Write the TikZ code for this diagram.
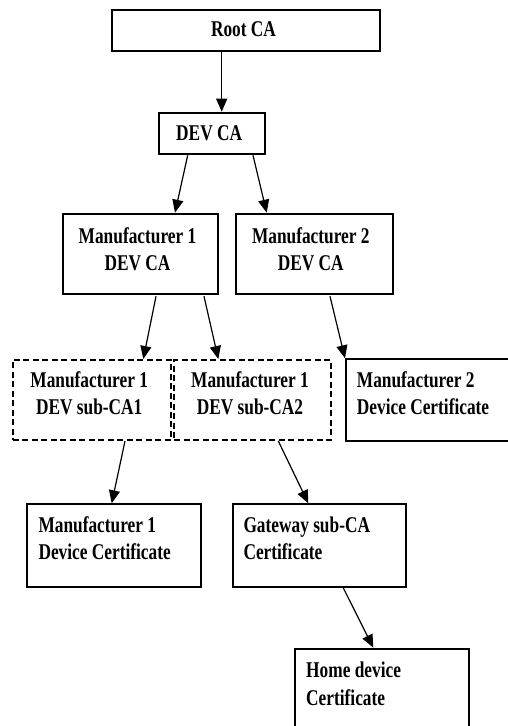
\documentclass[tikz,border=0pt]{standalone}
\usepackage{fontspec}
\setmainfont{Liberation Serif}
\newfontfamily\lab{Liberation Serif}[FakeStretch=0.77]
\usetikzlibrary{arrows.meta}
\tikzset{
  box/.style={draw, line width=2pt, inner sep=0pt, anchor=north west},
  dbox/.style={box, dashed, dash pattern=on 6pt off 3.5pt},
  txt/.style={inner sep=0pt, font=\lab\bfseries\fontsize{22.5}{27.5}\selectfont},
  ctxt/.style={txt, align=center, anchor=north},
  ltxt/.style={txt, align=left, anchor=north west},
  arr/.style={line width=1.2pt, -{Triangle[length=13pt,width=11pt]}}
}
\begin{document}
\begin{tikzpicture}[x=1pt,y=-1pt]
\useasboundingbox (0,0) rectangle (508,726);
\fill[white] (0,0) rectangle (508,726);
\clip (0,0) rectangle (508,726);
% boxes
\node[box, minimum width=268pt, minimum height=41pt] (root) at (111,9) {};
\node[box, minimum width=106.6pt, minimum height=41.6pt] (dev) at (157.7,111.7) {};
\node[box, minimum width=155.6pt, minimum height=80.6pt] (m1) at (61.7,212.7) {};
\node[box, minimum width=156.7pt, minimum height=80.6pt] (m2) at (235,212.7) {};
\node[dbox, minimum width=158.3pt, minimum height=80pt] (s1) at (11.7,359) {};
\node[dbox, minimum width=156.7pt, minimum height=80pt] (s2) at (173.3,359) {};
\node[box, minimum width=180pt, minimum height=81.7pt] (m2d) at (345,358.3) {};
\node[box, minimum width=174pt, minimum height=82.7pt] (m1d) at (26,503.3) {};
\node[box, minimum width=173.3pt, minimum height=82.7pt] (gw) at (231.7,503.3) {};
\node[box, minimum width=174pt, minimum height=100pt] (hd) at (294.3,647.7) {};
% texts
\node[txt, anchor=base] (rootT) at (243.5,36.7) {Root CA};
\node[txt, anchor=base] (devT) at (209.2,140.7) {DEV CA};
\node[ctxt] (m1T) at (137.5,227) {Manufacturer 1\\DEV CA};
\node[ctxt] (m2T) at (310.8,227) {Manufacturer 2\\DEV CA};
\node[ctxt] (s1T) at (89.2,371.4) {Manufacturer 1\\DEV sub-CA1};
\node[ctxt] (s2T) at (250,371.4) {Manufacturer 1\\DEV sub-CA2};
\node[ltxt] (m2dT) at (356.7,371.4) {Manufacturer 2\\Device Certificate};
\node[ltxt] (m1dT) at (38.3,516.4) {Manufacturer 1\\Device Certificate};
\node[ltxt] (gwT) at (243.3,516.4) {Gateway sub-CA\\Certificate};
\node[ltxt] (hdT) at (306,662) {Home device\\Certificate};
% arrows
\draw[arr] ([xshift=110.7pt]root.south west) -- ([xshift=64pt]dev.north west);
\draw[arr] ([xshift=30pt]dev.south west) -- ([xshift=113.3pt]m1.north west);
\draw[arr] ([xshift=95.3pt]dev.south west) -- ([xshift=31.7pt]m2.north west);
\draw[arr] ([xshift=94.3pt,yshift=-1pt]m1.south west) -- ([xshift=131.6pt]s1.north west);
\draw[arr] ([xshift=142.3pt,yshift=-1pt]m1.south west) -- ([xshift=45pt]s2.north west);
\draw[arr] ([xshift=95pt,yshift=-1pt]m2.south west) -- (m2d.north west);
\draw[arr] ([xshift=113.3pt]s1.south west) -- ([xshift=85.7pt]m1d.north west);
\draw[arr] ([xshift=105pt]s2.south west) -- ([xshift=76.6pt]gw.north west);
\draw[arr] ([xshift=111.6pt]gw.south west) -- ([xshift=79pt]hd.north west);
\end{tikzpicture}
\end{document}
